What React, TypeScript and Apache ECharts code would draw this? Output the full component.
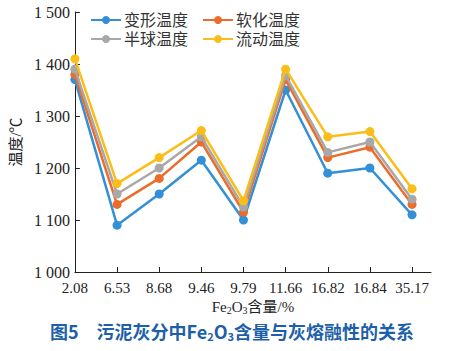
import React, { useEffect, useRef } from "react";
import * as echarts from "echarts";

const categories = ["2.08", "6.53", "8.68", "9.46", "9.79", "11.66", "16.82", "16.84", "35.17"];
const deformTemp = [1370, 1090, 1150, 1215, 1100, 1350, 1190, 1200, 1110];
const softenTemp = [1380, 1130, 1180, 1250, 1115, 1370, 1220, 1240, 1130];
const hemiTemp = [1390, 1150, 1200, 1260, 1125, 1378, 1230, 1250, 1140];
const flowTemp = [1410, 1170, 1220, 1272, 1137, 1390, 1260, 1270, 1160];
const seriesNames = ["变形温度", "软化温度", "半球温度", "流动温度"];
const colors = ["#3390d6", "#ec6d2b", "#a8a8a8", "#fbbd18"];

const SERIF = "'Liberation Serif', 'Noto Sans CJK SC', serif";
const SANS = "'Noto Sans CJK SC', sans-serif";

export default function App() {
  const ref = useRef<HTMLDivElement>(null);
  useEffect(() => {
    if (!ref.current) return;
    const chart = echarts.init(ref.current, undefined, { renderer: "svg" });
    const allData = [deformTemp, softenTemp, hemiTemp, flowTemp];
    const idx = categories.map((_, i) => i);
    const legendCommon = {
      itemWidth: 30,
      itemHeight: 10,
      itemGap: 14,
      padding: 0,
      textStyle: { fontFamily: SERIF, fontSize: 16, color: "#333", padding: [0, 0, 0, -2] },
      left: 90,
    };
    chart.setOption({
      animation: false,
      backgroundColor: "#fff",
      grid: { left: 68, right: 25, top: 12, bottom: 79 },
      legend: [
        { ...legendCommon, top: 12, data: [seriesNames[0], seriesNames[1]] },
        { ...legendCommon, top: 31, data: [seriesNames[2], seriesNames[3]] },
      ],
      xAxis: {
        type: "value",
        min: 0,
        max: 8.45,
        splitLine: { show: false },
        axisLine: { show: true, lineStyle: { color: "#222", width: 1 } },
        axisTick: { show: true, inside: true, length: 5, customValues: idx, lineStyle: { color: "#222" } },
        axisLabel: {
          customValues: idx,
          margin: 8,
          fontFamily: SERIF,
          fontSize: 15,
          color: "#222",
          formatter: (v: number) => categories[Math.round(v)] ?? "",
        },
        name: "{a|Fe}{s|2}{a|O}{s|3}{a|含量/%}",
        nameLocation: "middle",
        nameGap: 27,
        nameTextStyle: {
          rich: {
            a: { fontFamily: SERIF, fontSize: 15, color: "#222" },
            s: { fontFamily: SERIF, fontSize: 10, color: "#222", verticalAlign: "bottom", padding: [6, 0, 0, 0] },
          },
        },
      },
      yAxis: {
        type: "value",
        min: 1000,
        max: 1500,
        interval: 100,
        splitLine: { show: false },
        axisLine: { show: true, lineStyle: { color: "#222", width: 1 } },
        axisTick: { show: true, inside: true, length: 5, lineStyle: { color: "#222" } },
        axisLabel: {
          margin: 5,
          fontFamily: SERIF,
          fontSize: 16,
          color: "#222",
          formatter: (v: number) => {
            const s = String(v);
            return s.length > 3 ? s.slice(0, s.length - 3) + " " + s.slice(-3) : s;
          },
        },
        name: "温度/℃",
        nameLocation: "middle",
        nameGap: 46,
        nameTextStyle: { fontFamily: SERIF, fontSize: 15, color: "#222" },
      },
      title: {
        text: "{b|图5　污泥灰分中Fe}{s|2}{b|O}{s|3}{b|含量与灰熔融性的关系}",
        left: 50,
        top: 321,
        padding: 0,
        textStyle: {
          rich: {
            b: { fontFamily: SANS, fontSize: 18, lineHeight: 20, fontWeight: "bold", color: "#1d5fa9" },
            s: { fontFamily: SANS, fontSize: 11, lineHeight: 12, fontWeight: "bold", color: "#1d5fa9", verticalAlign: "bottom" },
          },
        },
      },
      series: allData.map((d, si) => ({
        name: seriesNames[si],
        type: "line",
        data: d.map((v, i) => [i, v]),
        symbol: "circle",
        symbolSize: 9,
        lineStyle: { width: 2.5, color: colors[si] },
        itemStyle: { color: colors[si] },
        z: 2 + si,
      })),
    });
    return () => chart.dispose();
  }, []);
  return <div ref={ref} style={{ width: 456, height: 351, position: "absolute", left: 0, top: 0 }} />;
}
